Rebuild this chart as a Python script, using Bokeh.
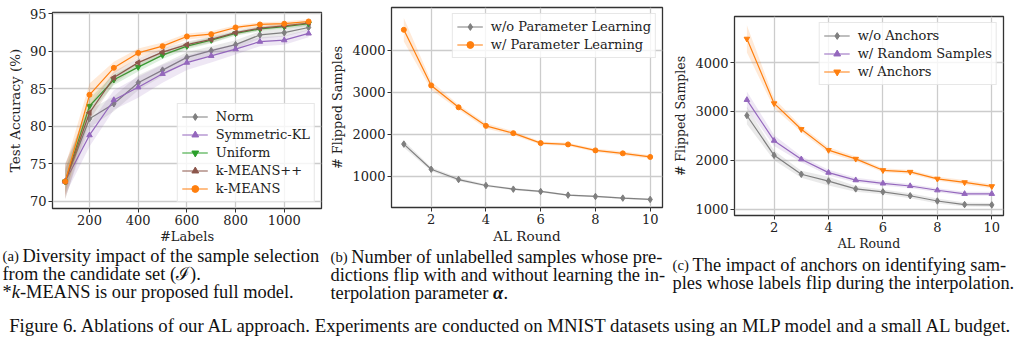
from bokeh.plotting import figure
from bokeh.models import Legend, LegendItem, Label, Range1d
from bokeh.layouts import row, column
from bokeh.embed import file_html
from bokeh.resources import INLINE
import math

# ---------------- data: panel (a) ----------------
labels_a = [100, 200, 300, 400, 500, 600, 700, 800, 900, 1000, 1100]
norm_a = [72.6, 81.0, 83.0, 85.8, 87.5, 89.2, 90.1, 90.9, 92.2, 92.5, 93.2]
norm_sd = [2.3, 1.2, 1.0, 1.0, 0.8, 0.7, 0.6, 0.6, 0.5, 0.5, 0.4]
symkl_a = [72.6, 78.8, 83.5, 85.2, 87.0, 88.5, 89.4, 90.3, 91.3, 91.5, 92.4]
symkl_sd = [1.8, 1.5, 1.3, 1.4, 1.2, 1.0, 0.9, 0.7, 0.6, 0.6, 0.5]
uniform_a = [72.6, 82.7, 86.2, 87.9, 89.5, 90.7, 91.5, 92.4, 93.0, 93.3, 93.7]
uniform_sd = [1.5, 1.0, 0.7, 0.6, 0.5, 0.4, 0.4, 0.3, 0.3, 0.3, 0.3]
kmpp_a = [72.6, 81.8, 86.5, 88.5, 89.9, 90.9, 91.6, 92.5, 93.1, 93.4, 93.8]
kmpp_sd = [2.4, 1.0, 0.8, 0.6, 0.5, 0.4, 0.4, 0.3, 0.3, 0.3, 0.3]
kmeans_a = [72.6, 84.2, 87.8, 89.8, 90.7, 92.0, 92.3, 93.2, 93.6, 93.7, 94.0]
kmeans_sd = [2.0, 1.5, 0.8, 0.6, 0.5, 0.4, 0.4, 0.3, 0.3, 0.3, 0.3]
xticks_a = [200, 400, 600, 800, 1000]
yticks_a = [70, 75, 80, 85, 90, 95]

# ---------------- data: panel (b) ----------------
rounds = [1, 2, 3, 4, 5, 6, 7, 8, 9, 10]
no_param_b = [1766, 1166, 921, 779, 692, 637, 550, 518, 479, 447]
no_param_sd = [80, 50, 40, 30, 25, 25, 20, 20, 20, 20]
param_b = [4489, 3163, 2642, 2200, 2026, 1789, 1758, 1616, 1545, 1460]
param_sd = [280, 100, 60, 60, 50, 40, 40, 40, 50, 40]
xticks_b = [2, 4, 6, 8, 10]
yticks_b = [1000, 2000, 3000, 4000]

# ---------------- data: panel (c) ----------------
no_anchor_c = [2918, 2103, 1715, 1575, 1415, 1354, 1274, 1167, 1094, 1087]
no_anchor_sd = [180, 100, 70, 90, 60, 50, 50, 50, 40, 40]
random_c = [3238, 2403, 2022, 1748, 1594, 1528, 1474, 1387, 1314, 1314]
random_sd = [170, 110, 60, 60, 50, 50, 40, 40, 40, 40]
anchor_c = [4488, 3165, 2637, 2209, 2029, 1796, 1762, 1621, 1548, 1468]
anchor_sd = [280, 100, 60, 60, 50, 40, 40, 40, 50, 40]
xticks_c = [2, 4, 6, 8, 10]
yticks_c = [1000, 2000, 3000, 4000]

GRAY, PURPLE, GREEN, BROWN, ORANGE = "#7f7f7f", "#9467bd", "#2ca02c", "#8c564b", "#ff7f0e"
SERIF = "DejaVu Serif"
TIMES = "Liberation Serif"
ROW_H = 313
CAP = "18.4px"
SMALL = "14.7px"


def make_fig(width, height, xr, yr, left, right, top, bottom):
    p = figure(width=width, height=height, x_range=Range1d(*xr), y_range=Range1d(*yr),
               output_backend="svg", toolbar_location=None, frame_align=False,
               min_border_left=left, min_border_right=right,
               min_border_top=top, min_border_bottom=bottom)
    return p


def style(p, tick_size, xlabel_size, ylabel_size, xlabel, ylabel, xticks, yticks):
    p.xaxis.axis_label = xlabel
    p.yaxis.axis_label = ylabel
    p.xaxis.ticker = xticks
    p.yaxis.ticker = yticks
    for ax in p.axis:
        ax.major_label_text_font = SERIF
        ax.major_label_text_font_size = tick_size
        ax.major_label_text_color = "#222222"
        ax.axis_label_text_font = SERIF
        ax.axis_label_text_font_style = "normal"
        ax.axis_label_text_color = "#222222"
        ax.minor_tick_line_color = None
        ax.major_tick_out = 4
        ax.major_tick_in = 0
        ax.major_tick_line_color = "#333333"
        ax.axis_line_color = None
        ax.major_label_standoff = 2
        ax.axis_label_standoff = 1
    p.xaxis.axis_label_text_font_size = xlabel_size
    p.yaxis.axis_label_text_font_size = ylabel_size
    p.yaxis.axis_label_standoff = 4
    p.grid.grid_line_color = "#cccccc"
    p.grid.grid_line_width = 1.3
    p.outline_line_color = "#333333"
    p.outline_line_width = 1.3


def series(p, x, y, sd, color, marker, size, angle=0.0):
    lo = [a - b for a, b in zip(y, sd)]
    hi = [a + b for a, b in zip(y, sd)]
    p.varea(x=x, y1=lo, y2=hi, fill_color=color, fill_alpha=0.16)
    ln = p.line(x, y, line_color=color, line_width=1.2)
    mk = p.scatter(x, y, marker=marker, size=size, fill_color=color, line_color=color, angle=angle)
    return [ln, mk]


def legend(p, items, location, size):
    lg = Legend(items=[LegendItem(label=t, renderers=r) for t, r in items], location=location,
                label_text_font=SERIF, label_text_font_size=size, label_text_color="#222222",
                label_height=17, glyph_height=17, glyph_width=26, label_standoff=8,
                spacing=1, padding=4, margin=6,
                border_line_color="#d0d0d0", border_line_width=1,
                background_fill_color="white", background_fill_alpha=0.8)
    p.add_layout(lg)


def cap_fig(width, height):
    c = figure(width=width, height=height, x_range=Range1d(0, 1), y_range=Range1d(0, 1),
               x_axis_type=None, y_axis_type=None, output_backend="svg", toolbar_location=None,
               frame_align=False, min_border=0, outline_line_color=None)
    c.grid.visible = False
    return c


def cap(c, fig_x, fig_y, x, y, text, size=CAP, style="normal", align="left"):
    # x, y are page coordinates; converted to the caption figure's own frame
    c.add_layout(Label(x=x - fig_x, y=c.height - (y - fig_y), x_units="screen", y_units="screen",
                       text=text, text_font=TIMES, text_font_size=size, text_font_style=style,
                       text_baseline="middle", text_align=align, text_color="#111111"))


TOP_AB = 246
TOP_C = 253

# ---------------- panel (a) ----------------
fa = make_fig(325, TOP_AB, (48, 1153), (69.0, 95.2), 52, 4, 12, TOP_AB - 208)
style(fa, "13px", "13px", "13.5px", "#Labels", "Test Accuracy (%)", xticks_a, yticks_a)
r_norm = series(fa, labels_a, norm_a, norm_sd, GRAY, "diamond", 6.5)
r_kl = series(fa, labels_a, symkl_a, symkl_sd, PURPLE, "triangle", 5.5)
r_uni = series(fa, labels_a, uniform_a, uniform_sd, GREEN, "inverted_triangle", 5.5)
r_kpp = series(fa, labels_a, kmpp_a, kmpp_sd, BROWN, "triangle", 5.5, math.pi / 2)
r_km = series(fa, labels_a, kmeans_a, kmeans_sd, ORANGE, "circle", 5)
legend(fa, [("Norm", r_norm), ("Symmetric-KL", r_kl), ("Uniform", r_uni),
            ("k-MEANS++", r_kpp), ("k-MEANS", r_km)], "bottom_right", "13px")
ca = cap_fig(325, ROW_H - TOP_AB)
cap(ca, 0, TOP_AB, 2, 255, "(a)", SMALL)
cap(ca, 0, TOP_AB, 22, 255, "Diversity impact of the sample selection")
cap(ca, 0, TOP_AB, 2, 273, "from the candidate set (\u2110).")
cap(ca, 0, TOP_AB, 2, 291, "*")
cap(ca, 0, TOP_AB, 11.2, 291, "k", style="italic")
cap(ca, 0, TOP_AB, 19.4, 291, "-MEANS is our proposed full model.")

# ---------------- panel (b) ----------------
fb = make_fig(345, TOP_AB, (0.55, 10.45), (255, 5020), 66, 8, 7, TOP_AB - 208)
style(fb, "13px", "13.5px", "12.8px", "AL Round", "# Flipped Samples", xticks_b, yticks_b)
r_np = series(fb, rounds, no_param_b, no_param_sd, GRAY, "diamond", 6.5)
r_p = series(fb, rounds, param_b, param_sd, ORANGE, "circle", 5)
legend(fb, [("w/o Parameter Learning", r_np), ("w/ Parameter Learning", r_p)], "top_right", "13px")
cb = cap_fig(345, ROW_H - TOP_AB)
cap(cb, 325, TOP_AB, 330, 256, "(b)", SMALL)
cap(cb, 325, TOP_AB, 350.8, 256, "Number of unlabelled samples whose pre-")
cap(cb, 325, TOP_AB, 330, 274, "dictions flip with and without learning the in-")
cap(cb, 325, TOP_AB, 330, 292, "terpolation parameter")
cap(cb, 325, TOP_AB, 492.5, 292, "\u03b1", style="bold italic")
cap(cb, 325, TOP_AB, 503, 292, ".")

# ---------------- panel (c) ----------------
fc = make_fig(354, TOP_C, (0.545, 10.43), (870, 4945), 59, 21, 16, TOP_C - 220)
style(fc, "13px", "12.5px", "12.5px", "AL Round", "# Flipped Samples", xticks_c, yticks_c)
r_na = series(fc, rounds, no_anchor_c, no_anchor_sd, GRAY, "diamond", 6.5)
r_rs = series(fc, rounds, random_c, random_sd, PURPLE, "triangle", 5.5)
r_an = series(fc, rounds, anchor_c, anchor_sd, ORANGE, "inverted_triangle", 5.5)
legend(fc, [("w/o Anchors", r_na), ("w/ Random Samples", r_rs), ("w/ Anchors", r_an)], "top_right", "13px")
cc = cap_fig(354, ROW_H - TOP_C)
cap(cc, 670, TOP_C, 672, 264, "(c)", SMALL)
cap(cc, 670, TOP_C, 692, 264, "The impact of anchors on identifying sam-")
cap(cc, 670, TOP_C, 672, 282, "ples whose labels flip during the interpolation.")

# ---------------- figure caption ----------------
fcap = cap_fig(1024, 353 - ROW_H)
cap(fcap, 0, ROW_H, 512, 325, "Figure 6. Ablations of our AL approach. Experiments are conducted on MNIST datasets using an MLP model and a small AL budget.",
    "18.8px", align="center")

layout = column(row(column(fa, ca), column(fb, cb), column(fc, cc)), fcap)
open("out.html", "w").write(file_html(layout, INLINE))
